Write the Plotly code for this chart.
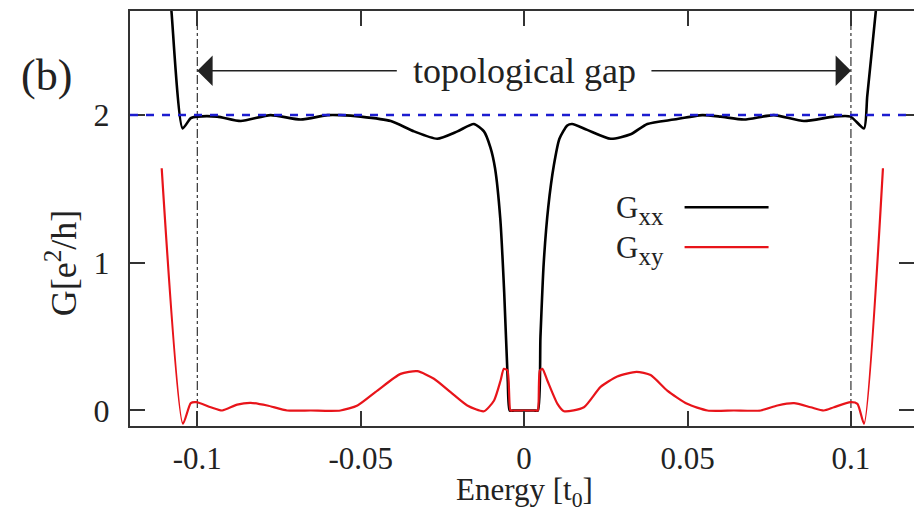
import plotly.graph_objects as go

# ---- data ----
gxx_x = [-0.1087, -0.1079, -0.1045, -0.1020, -0.1000, -0.0939, -0.0867, -0.0776, -0.0684,
         -0.0602, -0.0562, -0.0500, -0.0408, -0.0337, -0.0266, -0.0204, -0.0154, -0.0123,
         -0.0103, -0.0089, -0.0073, -0.0061, -0.0050, -0.0044, -0.0030, 0.0000, 0.0030,
         0.0042, 0.0050, 0.0060, 0.0074, 0.0091, 0.0108, 0.0132, 0.0147, 0.0193, 0.0265,
         0.0326, 0.0377, 0.0458, 0.0545, 0.0601, 0.0673, 0.0764, 0.0856, 0.0948, 0.0999,
         0.1040, 0.1050, 0.1076, 0.1084]
gxx_y = [2.90, 2.70, 1.91, 1.98, 1.99, 1.99, 1.96, 2.00, 1.97,
         2.00, 2.00, 1.99, 1.96, 1.89, 1.84, 1.89, 1.94, 1.89,
         1.78, 1.64, 1.30, 0.80, 0.20, 0.00, 0.00, 0.00, 0.00,
         0.00, 0.50, 1.00, 1.38, 1.66, 1.84, 1.93, 1.94, 1.90, 1.84,
         1.87, 1.94, 1.97, 2.00, 1.99, 1.97, 2.00, 1.96, 1.99, 1.99,
         1.91, 2.13, 2.70, 2.90]

gxy_x = [-0.1109, -0.1044, -0.1020, -0.1003, -0.0959, -0.0924, -0.0878, -0.0837, -0.0786,
         -0.0725, -0.0653, -0.0562, -0.0510, -0.0449, -0.0378, -0.0327, -0.0276, -0.0225,
         -0.0174, -0.0123, -0.0092, -0.0072, -0.0062, -0.0051, -0.0042, -0.0036, 0.0000,
         0.0036, 0.0042, 0.0048, 0.0056, 0.0071, 0.0102, 0.0122, 0.0183, 0.0234, 0.0285,
         0.0344, 0.0387, 0.0438, 0.0499, 0.0561, 0.0642, 0.0724, 0.0775, 0.0826, 0.0877,
         0.0917, 0.0948, 0.0999, 0.1020, 0.1040, 0.1098]
gxy_y = [1.64, -0.09, 0.050, 0.056, 0.022, 0.000, 0.040, 0.052, 0.034,
         0.000, 0.000, 0.000, 0.034, 0.135, 0.248, 0.266, 0.215, 0.124,
         0.034, -0.005, 0.068, 0.203, 0.282, 0.271, 0.000, 0.000, 0.000,
         0.000, 0.000, 0.271, 0.282, 0.203, 0.045, -0.005, 0.022, 0.160, 0.230,
         0.262, 0.240, 0.135, 0.045, 0.000, 0.000, 0.000, 0.034, 0.050, 0.022,
         0.000, 0.022, 0.056, 0.045, -0.09, 1.64]

x_ticks = [-0.1, -0.05, 0, 0.05, 0.1]
x_ticklabels = ["-0.1", "-0.05", "0", "0.05", "0.1"]
y_ticks = [0, 1, 2]
y_ticklabels = ["0", "1", "2"]
gap_edges = [-0.1, 0.1]
quantized_level = 2

FONT = "Liberation Serif"
AXC = "#333333"
TXT = "#222222"
XR = [-0.1206, 0.1193]
YR = [-0.105, 2.705]

fig = go.Figure()
fig.add_trace(go.Scatter(x=gxx_x, y=gxx_y, mode="lines", name="Gxx",
                         line=dict(color="black", width=2.6, shape="spline", smoothing=0.6),
                         showlegend=False))
fig.add_trace(go.Scatter(x=gxy_x, y=gxy_y, mode="lines", name="Gxy",
                         line=dict(color="#e8141a", width=2.2, shape="spline", smoothing=0.6),
                         showlegend=False))

# quantized level line
fig.add_shape(type="line", xref="paper", yref="y", x0=0, x1=1,
              y0=quantized_level, y1=quantized_level,
              line=dict(color="#1c1cd0", width=2.5, dash="8px,8px"), layer="above")
# gap edges
for xe in gap_edges:
    fig.add_shape(type="line", xref="x", yref="paper", x0=xe, x1=xe, y0=0, y1=1,
                  line=dict(color="#333333", width=1.2, dash="dashdot"), layer="below")

# topological gap label and arrows
fig.add_annotation(x=0, y=2.30, text="topological gap", showarrow=False,
                   font=dict(family=FONT, size=36, color=TXT), xanchor="center", yanchor="middle")
for xe, xt in [(gap_edges[0], -0.0385), (gap_edges[1], 0.0385)]:
    fig.add_annotation(x=xe, y=2.30, ax=xt, ay=2.30, axref="x", ayref="y",
                       text="", showarrow=True, arrowhead=1, arrowsize=3.4, arrowwidth=1.5,
                       arrowcolor=TXT, standoff=0, startstandoff=0)

# custom legend (text left, line right)
leg = [("G<sub><span style=\"font-size:25px\">xx</span></sub>", "black", 2.6, 1.376),
       ("G<sub><span style=\"font-size:25px\">xy</span></sub>", "#e8141a", 2.2, 1.106)]
for txt, col, w, yy in leg:
    fig.add_annotation(x=0.0435, y=yy - 0.02, text=txt, showarrow=False, xanchor="right",
                       yanchor="middle", font=dict(family=FONT, size=31, color=TXT))
    fig.add_shape(type="line", xref="x", yref="y", x0=0.0491, x1=0.0748, y0=yy, y1=yy,
                  line=dict(color=col, width=w))

# panel label
fig.add_annotation(xref="paper", yref="paper", x=-0.107, y=0.845, text="(b)", showarrow=False,
                   font=dict(family=FONT, size=44, color=TXT), xanchor="center", yanchor="middle")

# axis titles
fig.add_annotation(xref="paper", yref="paper", x=0.5026, y=-0.160, text="Energy [t<sub>0</sub>]",
                   showarrow=False, font=dict(family=FONT, size=31, color=TXT),
                   xanchor="center", yanchor="middle", borderpad=0)
fig.add_annotation(xref="paper", yref="paper", x=-0.087, y=0.394, text="G[e<sup>2</sup>/h]",
                   showarrow=False, textangle=-90, font=dict(family=FONT, size=36, color=TXT),
                   xanchor="center", yanchor="middle")

fig.update_layout(
    width=914, height=512,
    margin=dict(l=130, r=0, t=11, b=86),
    paper_bgcolor="white", plot_bgcolor="white",
    font=dict(family=FONT, color=TXT),
    xaxis=dict(range=XR, tickvals=x_ticks, ticktext=x_ticklabels, ticks="inside", ticklen=15,
               tickwidth=1.5, tickcolor=AXC, showline=True, linecolor=AXC, linewidth=2,
               mirror="ticks", showgrid=False, zeroline=False,
               tickfont=dict(family=FONT, size=31, color=TXT), ticklabelstandoff=4),
    yaxis=dict(range=YR, tickvals=y_ticks, ticktext=y_ticklabels, ticks="inside", ticklen=15,
               tickwidth=1.5, tickcolor=AXC, showline=True, linecolor=AXC, linewidth=2,
               mirror=False, showgrid=False, zeroline=False,
               tickfont=dict(family=FONT, size=32, color=TXT), ticklabelstandoff=12),
    yaxis2=dict(range=YR, overlaying="y", side="right", tickvals=y_ticks, ticks="inside",
                ticklen=15, tickwidth=1.5, tickcolor=AXC, showticklabels=False, showline=False,
                showgrid=False, zeroline=False),
)
fig.add_trace(go.Scatter(x=[None], y=[None], yaxis="y2", showlegend=False, hoverinfo="skip"))

fig.write_html("out.html")
